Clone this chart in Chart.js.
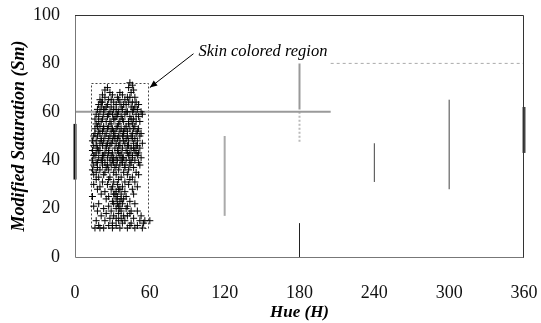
<!DOCTYPE html>
<html>
<head>
<meta charset="utf-8">
<script src="https://cdn.jsdelivr.net/npm/chart.js@4"></script>
<style>
html,body{margin:0;padding:0;background:#fff;}
#wrap{width:541px;height:323px;position:relative;}
</style>
</head>
<body>
<div id="wrap"><canvas id="c" width="541" height="323"></canvas></div>
<script>
// ---- data ----
const xTicks = [0, 60, 120, 180, 240, 300, 360];
const yTicks = [0, 20, 40, 60, 80, 100];
const xTitle = "Hue (H)";
const yTitle = "Modified Saturation (Sm)";

// skin pixel samples [hue, Sm]
const skinPoints = [
 [44,72],[46,71],
 [26,70],[43,70],[47,69],
 [24,69],[28,68],[36,68],[45,68],
 [22,67],[30,67],[34,66],[38,67],[44,66],[48,66],
 [20,65],[24,66],[27,65],[31,64],[35,65],[40,65],[43,64],[46,64],[49,64],
 [19,63],[22,64],[26,63],[29,62],[33,63],[37,62],[41,63],[45,62],[48,62],[51,63],
 [18,61],[21,62],[24,61],[28,60],[31,61],[35,60],[38,61],[42,60],[46,60],[50,61],[53,60],
 [17,59],[20,60],[23,59],[26,58],[30,59],[33,58],[37,58],[40,59],[44,58],[47,57],[51,58],[54,59],
 [16,57],[19,56],[22,57],[25,56],[28,56],[32,57],[35,55],[39,56],[43,56],[46,55],[49,56],[52,56],
 [17,55],[20,54],[23,54],[27,54],[30,53],[34,54],[37,53],[41,54],[44,53],[48,54],[51,53],
 [16,53],[19,52],[22,52],[25,51],[29,52],[32,51],[36,52],[39,51],[42,52],[46,51],[50,52],[53,51],
 [15,50],[18,50],[21,49],[24,50],[27,49],[31,50],[34,49],[38,50],[41,49],[45,50],[48,49],[52,50],
 [14,48],[17,48],[20,47],[23,48],[26,47],[30,48],[33,47],[36,48],[40,47],[43,48],[47,47],[50,48],[54,47],
 [15,46],[18,45],[22,46],[25,45],[28,46],[32,45],[35,46],[38,45],[42,46],[45,45],[49,46],[52,45],
 [14,44],[17,43],[20,44],[24,43],[27,44],[30,43],[34,44],[37,43],[41,44],[44,43],[48,44],[51,43],
 [15,42],[19,41],[22,42],[26,41],[29,42],[33,41],[36,42],[39,41],[43,42],[46,41],[50,42],[53,41],
 [14,40],[17,39],[21,40],[24,39],[28,40],[31,39],[34,40],[38,39],[41,40],[45,39],[48,40],[51,39],
 [15,38],[18,37],[22,38],[25,37],[29,38],[32,37],[36,38],[40,37],[44,38],[47,37],[52,38],
 [14,36],[17,35],[20,36],[24,35],[27,36],[31,35],[35,36],[39,35],[43,36],[49,35],
 [15,34],[19,33],[23,34],[28,33],[33,34],[37,33],[42,34],[46,33],[51,34],
 [17,32],[22,31],[27,32],[31,31],[35,32],[40,31],[44,32],[48,31],
 [15,30],[20,29],[26,30],[30,29],[34,30],[38,29],[43,30],[50,29],
 [18,28],[24,27],[29,28],[33,27],[36,28],[40,27],[46,28],
 [21,26],[27,25],[31,26],[34,25],[37,26],[41,25],[47,26],
 [14,25],[25,24],[30,23],[33,24],[36,23],[39,24],[44,23],
 [19,22],[27,21],[31,22],[35,21],[38,22],[42,21],[48,22],
 [15,21],[23,20],[29,19],[33,20],[37,19],[41,20],[45,19],
 [18,19],[25,18],[31,17],[35,18],[39,17],[44,18],[50,19],
 [21,17],[28,16],[33,16],[37,16],[42,17],[47,16],[53,17],
 [17,15],[24,15],[30,14],[35,15],[40,15],[45,14],[52,15],[56,15],[60,15],
 [19,13],[27,13],[33,13],[38,14],[44,13],[50,13],[55,14],
 [16,12],[20,12],[23,12],[30,12],[36,12],[42,12],[48,12],[54,12]
];

// extra samples in the dense core of the skin cluster [hue, Sm]
const skinCorePoints = [
 [21,64],[25,62],[29,65],[33,61],[36,64],[39,63],[42,66],[47,61],
 [19,58],[23,61],[27,59],[31,57],[34,59],[38,57],[41,60],[45,57],[49,59],
 [18,54],[21,56],[26,53],[29,55],[33,53],[36,56],[40,53],[43,55],[47,53],
 [16,51],[20,51],[23,53],[28,50],[31,52],[35,50],[39,52],[42,50],[46,49],[49,51],
 [17,46],[21,48],[25,46],[29,47],[32,49],[36,46],[39,48],[43,46],[47,45],[50,46],
 [16,42],[19,44],[23,42],[27,43],[31,41],[35,43],[38,41],[42,43],[46,42],[49,43],
 [18,39],[22,40],[26,38],[30,40],[33,38],[37,40],[40,38],[44,40],
 [32,26],[35,28],[34,22],[37,24],[36,20]
];

// skin colour bounding region
const regionHue = [13, 59];
const regionSat = [12, 72];

// scattered non-skin samples (vertical / horizontal streaks)
const streakHorizontal60 = [[0,60],[205,60]];
const streakDotted80 = [[205,80],[360,80]];
const streakHue180Upper = [[180,80],[180,61]];
const streakHue180Mid = [[180,60],[180,47]];
const streakHue180Low = [[180,0],[180,14]];
const streakHue120 = [[120,17],[120,50]];
const streakHue240 = [[240,31],[240,47]];
const streakHue300 = [[300,28],[300,65]];
const streakHue0 = [[0,32],[0,55]];
const streakHue360 = [[360,43],[360,62]];

// annotation
const noteText = "Skin colored region";
const notePos = [99, 85];
const arrowFrom = [95, 84];
const arrowTo = [60, 70];

// ---- chart ----
const toXY = a => a.map(p => ({x: p[0], y: p[1]}));
function lineSet(pts, color, width, dash) {
  return {type: 'line', data: toXY(pts), borderColor: color, borderWidth: width,
    borderDash: dash || [], pointRadius: 0, fill: false, showLine: true, order: 2, clip: false};
}
function crossSet(pts) {
  return {type: 'scatter', data: toXY(pts), pointStyle: 'cross', pointRadius: 3.5,
    pointBorderWidth: 1, borderColor: '#000', backgroundColor: '#000',
    pointHoverRadius: 3.5, order: 1};
}

const framePlugin = {
  id: 'frame',
  beforeDatasetsDraw(chart) {
    const {ctx, chartArea: a, scales: {x, y}} = chart;
    ctx.save();
    ctx.strokeStyle = '#444';
    ctx.lineWidth = 1;
    ctx.setLineDash([2, 2]);
    const x0 = x.getPixelForValue(regionHue[0]), x1 = x.getPixelForValue(regionHue[1]);
    const y0 = y.getPixelForValue(regionSat[1]), y1 = y.getPixelForValue(regionSat[0]);
    ctx.strokeRect(Math.round(x0)+0.5, Math.round(y0)+0.5, Math.round(x1-x0), Math.round(y1-y0));
    ctx.restore();
  },
  afterDatasetsDraw(chart) {
    const {ctx, chartArea: a, scales: {x, y}} = chart;
    ctx.save();
    ctx.lineWidth = 1;
    ctx.strokeStyle = '#777';
    ctx.beginPath();
    ctx.moveTo(a.left+0.5, a.top); ctx.lineTo(a.left+0.5, a.bottom+0.5); ctx.lineTo(a.right, a.bottom+0.5);
    ctx.stroke();
    ctx.strokeStyle = '#333';
    ctx.beginPath();
    ctx.moveTo(a.left, a.top+0.5); ctx.lineTo(a.right-0.5, a.top+0.5); ctx.lineTo(a.right-0.5, a.bottom+0.5);
    ctx.stroke();
    ctx.fillStyle = '#000';
    ctx.font = 'italic 16.5px "Liberation Serif", "Times New Roman", serif';
    ctx.textBaseline = 'middle';
    ctx.textAlign = 'left';
    ctx.fillText(noteText, x.getPixelForValue(notePos[0]), y.getPixelForValue(notePos[1]));
    const ax = x.getPixelForValue(arrowFrom[0]), ay = y.getPixelForValue(arrowFrom[1]);
    const bx = x.getPixelForValue(arrowTo[0]), by = y.getPixelForValue(arrowTo[1]);
    ctx.strokeStyle = '#000';
    ctx.lineWidth = 1;
    ctx.beginPath(); ctx.moveTo(ax, ay); ctx.lineTo(bx, by); ctx.stroke();
    const ang = Math.atan2(by - ay, bx - ax), L = 8, W = 0.4;
    ctx.beginPath();
    ctx.moveTo(bx, by);
    ctx.lineTo(bx - L*Math.cos(ang - W), by - L*Math.sin(ang - W));
    ctx.lineTo(bx - L*Math.cos(ang + W), by - L*Math.sin(ang + W));
    ctx.closePath(); ctx.fill();
    ctx.restore();
  }
};

const serif = '"Liberation Serif", "Times New Roman", serif';

new Chart(document.getElementById('c'), {
  type: 'scatter',
  data: {
    datasets: [
      lineSet(streakHorizontal60, '#9a9a9a', 2),
      lineSet(streakDotted80, '#aaaaaa', 1, [3, 3]),
      lineSet(streakHue180Upper, '#999999', 2),
      lineSet(streakHue180Mid, '#bbbbbb', 2, [2, 2]),
      lineSet(streakHue180Low, '#222222', 1),
      lineSet(streakHue120, '#aaaaaa', 2),
      lineSet(streakHue240, '#444444', 1),
      lineSet(streakHue300, '#444444', 1),
      lineSet(streakHue0, '#111111', 3),
      lineSet(streakHue360, '#444444', 3),
      crossSet(skinPoints),
      crossSet(skinCorePoints)
    ]
  },
  options: {
    responsive: false,
    animation: false,
    events: [],
    layout: {padding: {top: 15, right: 17, left: 0, bottom: 0}},
    plugins: {legend: {display: false}, tooltip: {enabled: false}},
    scales: {
      x: {
        type: 'linear', min: 0, max: 360,
        afterBuildTicks: s => { s.ticks = xTicks.map(v => ({value: v})); },
        afterFit: s => { s.height = 66; s.paddingLeft = 0; s.paddingRight = 0; },
        grid: {display: false, drawTicks: false},
        border: {display: false},
        ticks: {color: '#111', font: {family: serif, size: 18}, padding: 25, maxRotation: 0},
        title: {display: true, text: xTitle, color: '#000',
          font: {family: serif, size: 17, style: 'italic', weight: 'bold'}, padding: {top: 4, bottom: 0}}
      },
      y: {
        type: 'linear', min: 0, max: 100,
        afterBuildTicks: s => { s.ticks = yTicks.map(v => ({value: v})); },
        afterFit: s => { s.width = 75; s.paddingTop = 0; s.paddingBottom = 0; },
        grid: {display: false, drawTicks: false},
        border: {display: false},
        ticks: {color: '#111', font: {family: serif, size: 18}, padding: 15},
        title: {display: true, text: yTitle, color: '#000',
          font: {family: serif, size: 18, style: 'italic', weight: 'bold'}, padding: {top: 9, bottom: 2}}
      }
    }
  },
  plugins: [framePlugin]
});
</script>
</body>
</html>
